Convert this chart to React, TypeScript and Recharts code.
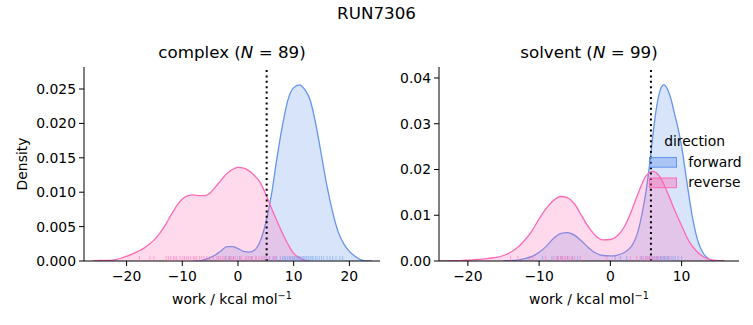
import { ComposedChart, Area, Scatter, XAxis, YAxis, ReferenceLine } from "recharts";

const FONT = "DejaVu Sans, Verdana, sans-serif";
const BLUE = "#6495ed";
const PINK = "#ff69b4";

// complex leg, kde curves
const complexForwardWork = [-8, -7, -6, -5, -4, -3, -2, -1, 0, 1, 2, 3, 4, 5, 6, 7, 8, 9, 10, 11, 12, 13, 14, 15, 16, 17, 18, 19, 20, 21, 22, 23, 24];
const complexForwardDensity = [0, 0, 0.0002, 0.0005, 0.0009, 0.0015, 0.0021, 0.0021, 0.0018, 0.0014, 0.0013, 0.0016, 0.0029, 0.0056, 0.0096, 0.015, 0.0198, 0.0235, 0.0252, 0.0256, 0.0249, 0.0233, 0.0198, 0.0153, 0.0108, 0.0071, 0.0042, 0.0025, 0.0014, 0.0007, 0.0002, 0, 0];

const complexReverseWork = [-26, -25, -24, -23, -22, -21, -20, -19, -18, -17, -16, -15, -14, -13, -12, -11, -10, -9, -8, -7, -6, -5, -4, -3, -2, -1, 0, 1, 2, 3, 4, 5, 6, 7, 8, 9, 10, 11, 12, 13];
const complexReverseDensity = [0, 0.0001, 0.0001, 0.0001, 0.0002, 0.0004, 0.0007, 0.001, 0.0014, 0.0018, 0.0024, 0.0031, 0.0041, 0.0053, 0.0067, 0.008, 0.009, 0.0095, 0.0096, 0.0095, 0.0095, 0.0099, 0.0108, 0.0118, 0.0127, 0.0133, 0.0136, 0.0135, 0.0131, 0.0124, 0.0114, 0.0097, 0.0077, 0.0058, 0.004, 0.0024, 0.0011, 0.0005, 0.0001, 0];

// solvent leg
const solventForwardWork = [-15, -14, -13, -12, -11, -10, -9, -8, -7, -6, -5, -4, -3, -2, -1, 0, 1, 2, 3, 3.5, 4, 4.5, 5, 5.5, 6, 6.5, 7, 7.5, 8, 8.5, 9, 9.5, 10, 10.5, 11, 11.5, 12, 12.5, 13, 13.5, 14, 15, 16];
const solventForwardDensity = [0, 0.0001, 0.0002, 0.0005, 0.001, 0.0019, 0.0032, 0.0049, 0.006, 0.0062, 0.0056, 0.0043, 0.0028, 0.0017, 0.0012, 0.0011, 0.0013, 0.0019, 0.0033, 0.0048, 0.0072, 0.0108, 0.0152, 0.021, 0.028, 0.0338, 0.0374, 0.0385, 0.0376, 0.0354, 0.0322, 0.029, 0.025, 0.0198, 0.0145, 0.0097, 0.006, 0.0034, 0.0018, 0.0008, 0.0003, 0, 0];

const solventReverseWork = [-24, -23, -22, -21, -20, -19, -18, -17, -16, -15, -14, -13, -12, -11, -10, -9, -8, -7, -6, -5, -4, -3, -2, -1, 0, 1, 2, 3, 4, 5, 6, 7, 8, 9, 10, 11, 12, 13, 14, 15, 16];
const solventReverseDensity = [0, 0, 0.0001, 0.0001, 0.0002, 0.0003, 0.0004, 0.0006, 0.0008, 0.0012, 0.0019, 0.003, 0.0046, 0.0066, 0.0092, 0.0115, 0.0132, 0.0141, 0.0138, 0.0124, 0.0098, 0.0073, 0.0054, 0.0046, 0.0047, 0.0055, 0.0076, 0.0111, 0.0152, 0.0186, 0.0196, 0.0183, 0.015, 0.0112, 0.0077, 0.0044, 0.0023, 0.001, 0.0003, 0.0001, 0];

// rug (individual work values)
const complexForwardRug = [-2.2, -1.5, -0.8, 0.3, 2.4, 4.8, 5.6, 6.3, 6.9, 7.6, 8.0, 8.3, 8.5, 8.9, 9.2, 9.4, 9.7, 9.9, 10.1, 10.4, 10.6, 10.8, 11.0, 11.2, 11.5, 11.7, 11.9, 12.2, 12.4, 12.7, 13.0, 13.3, 13.5, 13.9, 14.2, 14.6, 15.0, 15.4, 16.0, 16.5, 17.0, 17.6, 18.3, 18.8];
const complexReverseRug = [-17.7, -15.8, -15.1, -12.9, -12.5, -12.1, -11.6, -11.3, -11.0, -10.4, -9.9, -9.6, -9.2, -8.9, -8.5, -8.0, -7.7, -7.4, -6.9, -6.5, -6.1, -5.6, -5.1, -4.4, -3.8, -3.5, -3.2, -2.8, -2.5, -2.2, -1.7, -1.4, -1.1, -0.8, -0.5, -0.1, 0.4, 0.7, 1.3, 1.6, 1.9, 2.2, 2.6, 3.1, 3.3, 3.8, 4.2, 4.5, 5.1, 5.7, 6.5, 6.7];
const solventForwardRug = [-9.5, -8.2, -7.4, -6.8, -6.0, -5.3, -4.6, 0.7, 1.4, 2.3, 4.4, 5.0, 5.5, 5.9, 6.2, 6.5, 6.7, 7.0, 7.2, 7.4, 7.6, 7.8, 8.0, 8.2, 8.5, 8.8, 9.1, 9.5, 10.0];
const solventReverseRug = [-14.0, -13.0, -11.4, -10.9, -9.1, -7.9, -7.6, -7.3, -7.0, -6.8, -6.5, -6.3, -6.0, -5.7, -5.4, -5.0, -4.2, -0.5, 2.8, 3.7, 4.2, 4.6, 4.9, 5.2, 5.4, 5.6, 5.8, 6.1, 6.4, 6.7, 7.0, 7.5, 8.2];

const complexCutoff = 5.15;
const solventCutoff = 5.69;

const complexTicksX = [-20, -10, 0, 10, 20];
const complexTicksY = [0, 0.005, 0.01, 0.015, 0.02, 0.025];
const solventTicksX = [-20, -10, 0, 10];
const solventTicksY = [0, 0.01, 0.02, 0.03, 0.04];

const zip = (xs: number[], ys: number[]) => xs.map((x, i) => ({ x, y: ys[i] }));
const rug = (xs: number[]) => xs.map((x) => ({ x, y: 0 }));

const minus = (v: number, digits?: number) => {
  const s = digits === undefined ? String(v) : v.toFixed(digits);
  return s.replace("-", "\u2212");
};

const RugTick = (color: string) => (props: any) => {
  const { cx, cy } = props;
  return <line x1={cx} x2={cx} y1={cy} y2={cy - 5} stroke={color} strokeOpacity={0.5} strokeWidth={1} />;
};

const tickStyle = { fill: "#000", fontSize: 13.9, fontFamily: FONT };

interface PanelProps {
  width: number;
  yAxisWidth: number;
  rightMargin: number;
  xDomain: [number, number];
  yDomain: [number, number];
  xTicks: number[];
  yTicks: number[];
  yDigits: number;
  forward: { x: number; y: number }[];
  reverse: { x: number; y: number }[];
  forwardRug: { x: number; y: number }[];
  reverseRug: { x: number; y: number }[];
  cutoff: number;
}

function Panel(p: PanelProps) {
  return (
    <ComposedChart width={p.width} height={325} margin={{ top: 67, right: p.rightMargin, bottom: 24, left: 0 }}>
      <XAxis
        type="number"
        dataKey="x"
        domain={p.xDomain}
        ticks={p.xTicks}
        interval={0}
        allowDataOverflow
        height={40}
        tick={tickStyle}
        tickSize={5}
        tickMargin={5}
        tickLine={{ stroke: "#000" }}
        axisLine={{ stroke: "#000" }}
        tickFormatter={(v: number) => minus(v)}
      />
      <YAxis
        type="number"
        dataKey="y"
        domain={p.yDomain}
        ticks={p.yTicks}
        interval={0}
        allowDataOverflow
        width={p.yAxisWidth}
        tick={tickStyle}
        tickSize={5}
        tickMargin={3}
        tickLine={{ stroke: "#000" }}
        axisLine={{ stroke: "#000" }}
        tickFormatter={(v: number) => minus(v, p.yDigits)}
      />
      <Area data={p.forward} dataKey="y" type="monotone" stroke={BLUE} strokeWidth={1.3} fill={BLUE} fillOpacity={0.25} isAnimationActive={false} />
      <Area data={p.reverse} dataKey="y" type="monotone" stroke={PINK} strokeWidth={1.3} fill={PINK} fillOpacity={0.25} isAnimationActive={false} />
      <Scatter data={p.forwardRug} dataKey="y" shape={RugTick(BLUE)} isAnimationActive={false} />
      <Scatter data={p.reverseRug} dataKey="y" shape={RugTick(PINK)} isAnimationActive={false} />
      <ReferenceLine x={p.cutoff} stroke="#000" strokeWidth={2} strokeDasharray="2 3.4" />
    </ComposedChart>
  );
}

export default function App() {
  return (
    <div style={{ position: "absolute", left: 0, top: 0, width: 753, height: 325, background: "#fff", fontFamily: FONT }}>
      <div style={{ position: "absolute", left: 0, top: 0 }}>
        <Panel
          width={390}
          yAxisWidth={84}
          rightMargin={10}
          xDomain={[-27.65, 25.5]}
          yDomain={[0, 0.0282]}
          xTicks={complexTicksX}
          yTicks={complexTicksY}
          yDigits={3}
          forward={zip(complexForwardWork, complexForwardDensity)}
          reverse={zip(complexReverseWork, complexReverseDensity)}
          forwardRug={rug(complexForwardRug)}
          reverseRug={rug(complexReverseRug)}
          cutoff={complexCutoff}
        />
      </div>
      <div style={{ position: "absolute", left: 390, top: 0 }}>
        <Panel
          width={363}
          yAxisWidth={49}
          rightMargin={14}
          xDomain={[-24.05, 18.05]}
          yDomain={[0, 0.0424]}
          xTicks={solventTicksX}
          yTicks={solventTicksY}
          yDigits={2}
          forward={zip(solventForwardWork, solventForwardDensity)}
          reverse={zip(solventReverseWork, solventReverseDensity)}
          forwardRug={rug(solventForwardRug)}
          reverseRug={rug(solventReverseRug)}
          cutoff={solventCutoff}
        />
      </div>
      <svg width={753} height={325} style={{ position: "absolute", left: 0, top: 0, pointerEvents: "none" }} fontFamily={FONT}>
        <text x={376.5} y={19} textAnchor="middle" fontSize={16.7}>RUN7306</text>
        <text x={232} y={58} textAnchor="middle" fontSize={16.7}>
          complex (<tspan fontStyle="italic">N</tspan> = 89)
        </text>
        <text x={589} y={58} textAnchor="middle" fontSize={16.7}>
          solvent (<tspan fontStyle="italic">N</tspan> = 99)
        </text>
        <text x={26.5} y={164} textAnchor="middle" fontSize={13.9} transform="rotate(-90 26.5 164)">Density</text>
        {[232, 589].map((cx) => (
          <text key={cx} x={cx} y={304} textAnchor="middle" fontSize={13.9}>
            work / kcal mol<tspan dy={-5.5} fontSize={9.7}>{"\u22121"}</tspan>
          </text>
        ))}
        <text x={694.6} y={146} textAnchor="middle" fontSize={13.9}>direction</text>
        <rect x={649.5} y={157.5} width={27} height={9.7} fill={BLUE} fillOpacity={0.4} stroke={BLUE} strokeWidth={1} />
        <text x={688.3} y={166.5} fontSize={13.9}>forward</text>
        <rect x={649.5} y={178} width={27} height={9.7} fill={PINK} fillOpacity={0.4} stroke={PINK} strokeWidth={1} />
        <text x={688.3} y={187} fontSize={13.9}>reverse</text>
      </svg>
    </div>
  );
}
